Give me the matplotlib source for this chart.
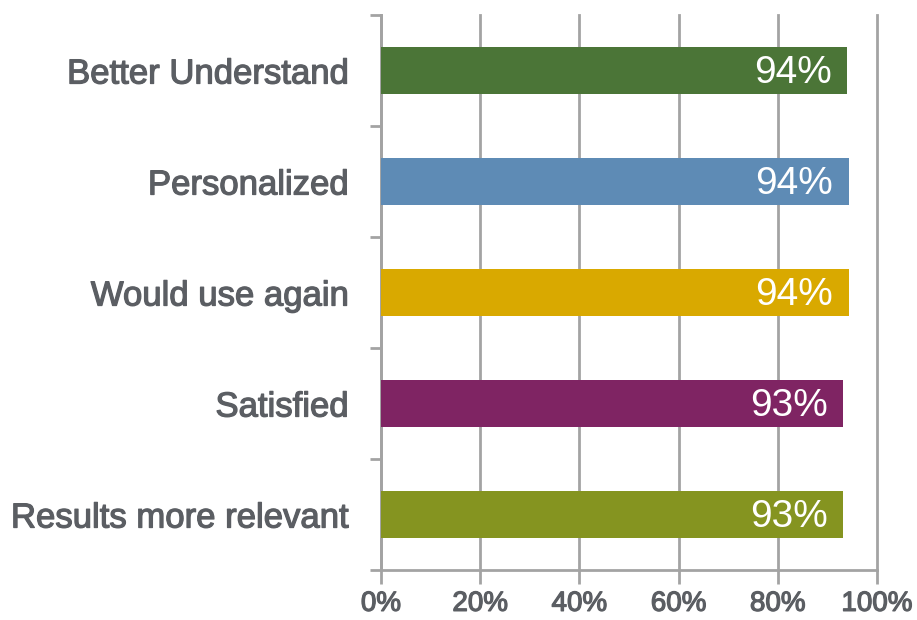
import matplotlib.pyplot as plt
import matplotlib.patheffects as pe
import numpy as np
from matplotlib.ticker import FixedLocator

categories = ["Better Understand", "Personalized", "Would use again",
              "Satisfied", "Results more relevant"]
values = [0.940, 0.944, 0.944, 0.932, 0.932]
value_labels = ["94%", "94%", "94%", "93%", "93%"]
colors = ["#4B7537", "#5E8BB5", "#D9A900", "#7F2463", "#859420"]
x_ticks = [0, 0.2, 0.4, 0.6, 0.8, 1.0]
x_tick_labels = ["0%", "20%", "40%", "60%", "80%", "100%"]

TEXT = "#5B5E63"
AXIS = "#A3A3A3"
heavy = [pe.withStroke(linewidth=0.9, foreground=TEXT)]

fig = plt.figure(figsize=(9.17, 6.2), dpi=100)
ax = fig.add_axes([0.4155, 0.0806, 0.5409, 0.8952])

y = np.arange(len(categories))
ax.barh(y, values, height=0.415, color=colors, zorder=3)
for yi, v, lab in zip(y, values, value_labels):
    ax.text(v - 0.032, yi + 0.02, lab, ha="right", va="center", color="white",
            fontsize=28, family="Liberation Sans", zorder=4)

ax.set_ylim(len(categories) - 0.5, -0.5)
ax.set_xlim(0, 1.0)
ax.set_yticks(y)
ax.set_yticklabels(categories, fontsize=25, color=TEXT,
                   family="Liberation Sans")
ax.yaxis.set_minor_locator(FixedLocator(np.arange(-0.5, len(categories), 1)))
ax.tick_params(axis="y", which="major", length=0, pad=23)
ax.tick_params(axis="y", which="minor", length=8, width=2, color=AXIS)

ax.set_xticks(x_ticks)
ax.set_xticklabels(x_tick_labels, fontsize=20, color=TEXT,
                   family="Liberation Sans")
ax.tick_params(axis="x", length=10, width=2, color=AXIS, pad=5)
for lbl in ax.get_yticklabels() + ax.get_xticklabels():
    lbl.set_path_effects(heavy)

ax.grid(axis="x", color=AXIS, linewidth=2, zorder=0)
for gl in ax.get_xgridlines():
    gl.set_clip_on(False)
for side in ["top", "right"]:
    ax.spines[side].set_visible(False)
for side in ["left", "bottom"]:
    ax.spines[side].set_color(AXIS)
    ax.spines[side].set_linewidth(2)

fig.savefig("out.png", dpi=100)
